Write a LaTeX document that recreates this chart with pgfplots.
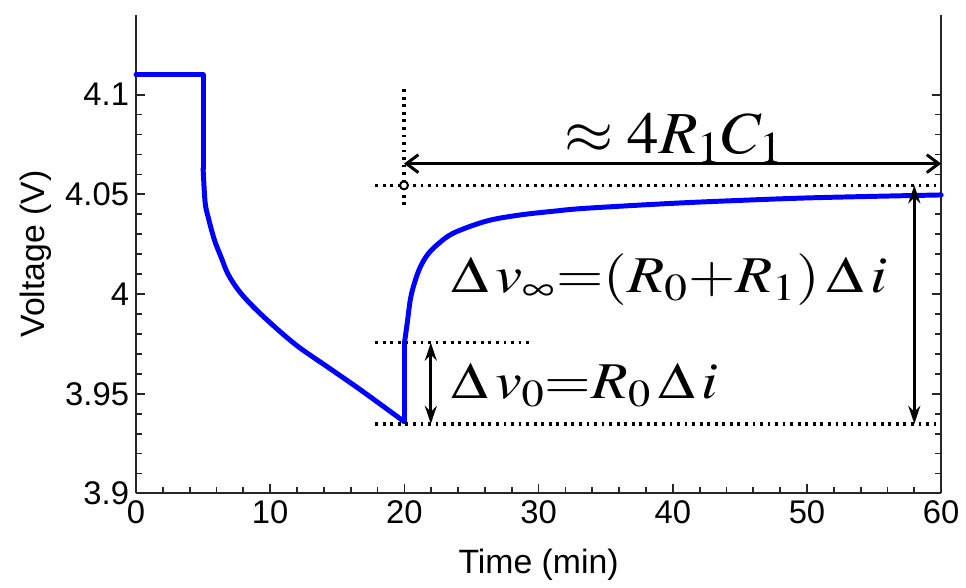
\documentclass[border=0pt]{standalone}
\usepackage{mathptmx}
\usepackage{fontspec}
\setmainfont{Liberation Sans}
\usepackage{pgfplots}
\pgfplotsset{compat=1.18}
\usetikzlibrary{arrows.meta,calc}

\begin{document}
\begin{tikzpicture}
\begin{axis}[
  scale only axis, width=405.5pt, height=241pt,
  xmin=0, xmax=60, ymin=3.9, ymax=4.14,
  separate axis lines,
  axis x line*=bottom, axis y line*=box,
  x axis line style={-, line width=1pt, black!85},
  y axis line style={-, line width=1pt, black!85},
  xtick={0,10,...,60}, ytick={3.9,3.95,4,4.05,4.1},
  minor x tick num=4, minor y tick num=4,
  tick align=inside, major tick length=4.5pt, minor tick length=3pt,
  tick style={line width=0.9pt, black!85},
  /pgf/number format/assume math mode=true,
  tick label style={font=\fontsize{16.5}{16.5}\selectfont},
  xlabel={Time (min)}, ylabel={Voltage (V)},
  label style={font=\fontsize{17}{17}\selectfont},
  xlabel style={yshift=-6pt},
  clip=false,
]
\addplot[blue, line width=2.5pt, line cap=round, line join=round] coordinates {
  (0,4.11) (5,4.11) (5,4.063)
};
\addplot[blue, line width=2.5pt, line cap=round, smooth, tension=0.55] coordinates {
  (5,4.063) (5.15,4.046) (5.4,4.038) (5.85,4.027) (6.36,4.0182)
  (6.88,4.0097) (7.8,4.0005) (9.32,3.9898) (11.84,3.9749) (14.28,3.9634)
  (16.72,3.952) (19.68,3.9375) (20,3.936)
};
\addplot[blue, line width=2.5pt, line cap=round] coordinates {
  (20,3.936) (20,3.9754)
};
\addplot[blue, line width=2.5pt, line cap=round, smooth, tension=0.55] coordinates {
  (20,3.9754) (20.2,3.9848) (20.45,3.9975) (20.75,4.0055) (21.16,4.0132)
  (21.7,4.0195) (22.42,4.0246) (23.67,4.0306) (26.12,4.0366) (28.56,4.0396)
  (31.07,4.0415) (33.51,4.043) (40,4.0455) (45.13,4.047) (50,4.0482)
  (55,4.049) (60,4.0497)
};
% guide lines
\draw[black, line width=1.8pt, dash pattern=on 1.4pt off 2.4pt] (axis cs:17.83,4.0545) -- (axis cs:60,4.0545);
\draw[black, line width=1.8pt, dash pattern=on 1.4pt off 2.4pt] (axis cs:19.97,4.1027) -- (axis cs:19.97,4.043);
\draw[black, line width=1pt, fill=white] (axis cs:19.97,4.0545) circle[radius=2pt];
\draw[black, line width=1.8pt, dash pattern=on 1.4pt off 2.4pt] (axis cs:17.83,3.9756) -- (axis cs:29.6,3.9756);
\draw[black, line width=1.8pt, dash pattern=on 1.4pt off 2.4pt] (axis cs:17.83,3.9349) -- (axis cs:60,3.9349);
% arrows
\draw[black, line width=1.5pt, {Straight Barb[length=6pt,width=9pt,line width=1.5pt]}-{Straight Barb[length=6pt,width=9pt,line width=1.5pt]}] (axis cs:19.97,4.0654) -- (axis cs:60,4.0654);
\draw[black, line width=1.5pt, {Stealth[length=9pt,width=6pt]}-{Stealth[length=9pt,width=6pt]}] (axis cs:21.97,3.9756) -- (axis cs:21.97,3.9349);
\draw[black, line width=1.5pt, {Stealth[length=9pt,width=6pt]}-{Stealth[length=9pt,width=6pt]}] (axis cs:58,4.0545) -- (axis cs:58,3.9349);
% labels
\node[anchor=base west, inner sep=0pt, font=\fontsize{30}{30}\selectfont] at (axis cs:31.9,4.0704) {\scalebox{1.06}[1]{$\approx 4R_1C_1$}};
\node[anchor=base west, inner sep=0pt, font=\fontsize{26}{26}\selectfont] at (axis cs:23.5,4.0007) {\scalebox{1.18}[1]{$\Delta\,v_\infty{=}(R_0{+}R_1)\,\Delta\,i$}};
\node[anchor=base west, inner sep=0pt, font=\fontsize{26}{26}\selectfont] at (axis cs:23.5,3.9475) {\scalebox{1.16}[1]{$\Delta\,v_0{=}R_0\,\Delta\,i$}};
\end{axis}
\path ($(current axis.south west)+(-68.5pt,-42.5pt)$) rectangle ($(current axis.north east)+(9pt,7.5pt)$);
\end{tikzpicture}
\end{document}
